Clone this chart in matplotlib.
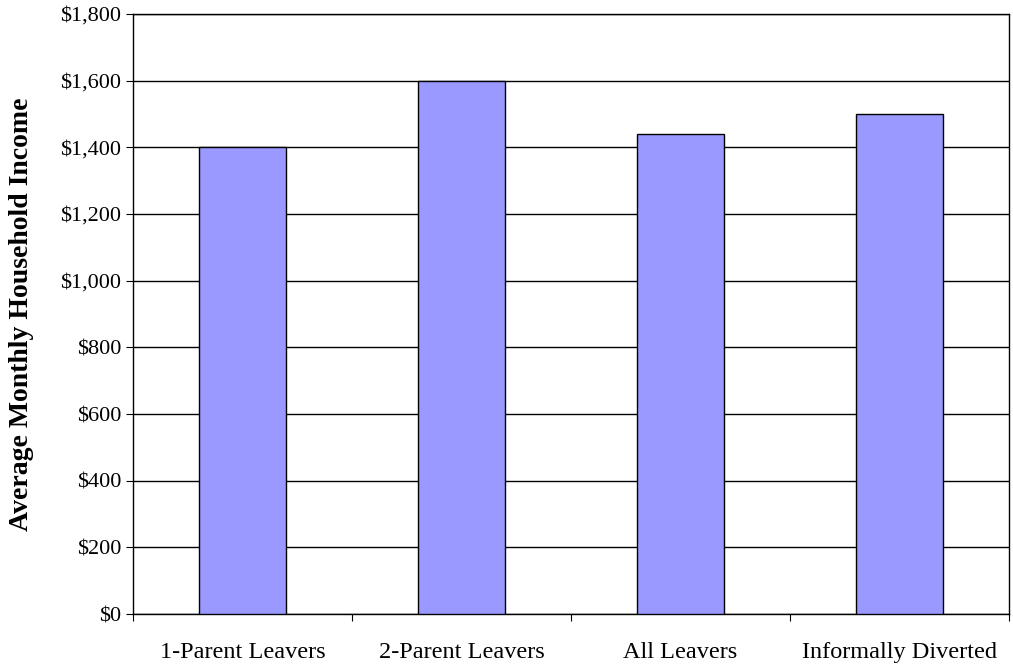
import matplotlib.pyplot as plt
import numpy as np

categories = ["1-Parent Leavers", "2-Parent Leavers", "All Leavers", "Informally Diverted"]
income = [1400, 1600, 1440, 1500]

plt.rcParams['font.family'] = ['Liberation Serif', 'DejaVu Serif']

fig = plt.figure(figsize=(10.13, 6.66), dpi=100)
ax = fig.add_axes([0.1313, 0.078, 0.8647, 0.901])

x = np.arange(len(categories))
ax.bar(x, income, width=0.4, color='#9999FF', edgecolor='black', linewidth=1, zorder=3)

ax.set_xlim(-0.5, len(categories) - 0.5)
ax.set_ylim(0, 1800)
ax.set_yticks(np.arange(0, 1801, 200))
ax.set_yticklabels(['${:,}'.format(v) for v in range(0, 1801, 200)], fontsize=16)
ax.yaxis.grid(True, color='black', linewidth=1, zorder=0)

# category labels sit between boundary ticks
ax.set_xticks(np.arange(-0.5, len(categories), 1))
ax.set_xticklabels([])
ax.set_xticks(x, minor=True)
ax.set_xticklabels(categories, minor=True, fontsize=17.5)
ax.tick_params(axis='x', which='minor', length=0, pad=20)
ax.tick_params(axis='x', which='major', length=5, direction='out')
ax.tick_params(axis='y', length=5, direction='out')

for s in ax.spines.values():
    s.set_color('black')
    s.set_linewidth(1)

ax.set_ylabel("Average Monthly Household Income", fontsize=20, fontweight='bold', labelpad=19)

fig.savefig('out.png', dpi=100)
